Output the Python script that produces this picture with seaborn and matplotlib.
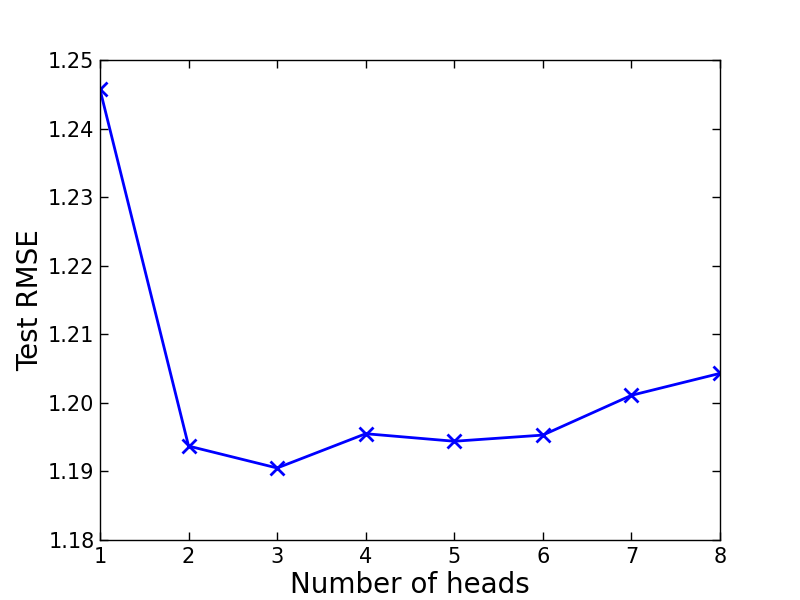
import numpy as np
import pandas as pd
import seaborn as sns
import matplotlib
matplotlib.use('Agg')
import matplotlib.pyplot as plt

heads = [1, 2, 3, 4, 5, 6, 7, 8]
rmse = [1.2457, 1.1937, 1.1905, 1.1955, 1.1944, 1.1953, 1.2011, 1.2043]
ytick_vals = [1.18, 1.19, 1.20, 1.21, 1.22, 1.23, 1.24, 1.25]

data = pd.DataFrame({'heads': heads, 'rmse': rmse})

sns.set_style('ticks')
plt.rcParams['font.family'] = ['DejaVu Sans']
plt.rcParams['text.color'] = 'black'
plt.rcParams['axes.labelcolor'] = 'black'
plt.rcParams['xtick.color'] = 'black'
plt.rcParams['ytick.color'] = 'black'

fig = plt.figure(figsize=(8, 6), dpi=100)
ax = fig.add_axes([0.125, 0.1, 0.775, 0.8])

sns.lineplot(x='heads', y='rmse', data=data, ax=ax, color='blue', linewidth=2,
             marker='x', markersize=10, markeredgewidth=2, markeredgecolor='blue')

ax.set_xlim(1, 8)
ax.set_ylim(1.18, 1.25)
ax.set_xticks(heads)
ax.set_yticks(ytick_vals)
ax.set_yticklabels(['%.2f' % v for v in ytick_vals])

ax.tick_params(direction='in', length=6, width=1, labelsize=15, top=True, right=True,
               colors='black')
ax.tick_params(axis='x', pad=5)
ax.tick_params(axis='y', pad=4)
for s in ax.spines.values():
    s.set_linewidth(1)
    s.set_color('black')

ax.set_xlabel('Number of heads', fontsize=20, labelpad=3)
ax.set_ylabel('Test RMSE', fontsize=20, labelpad=3)

fig.savefig('out.png', dpi=100, facecolor='white')
